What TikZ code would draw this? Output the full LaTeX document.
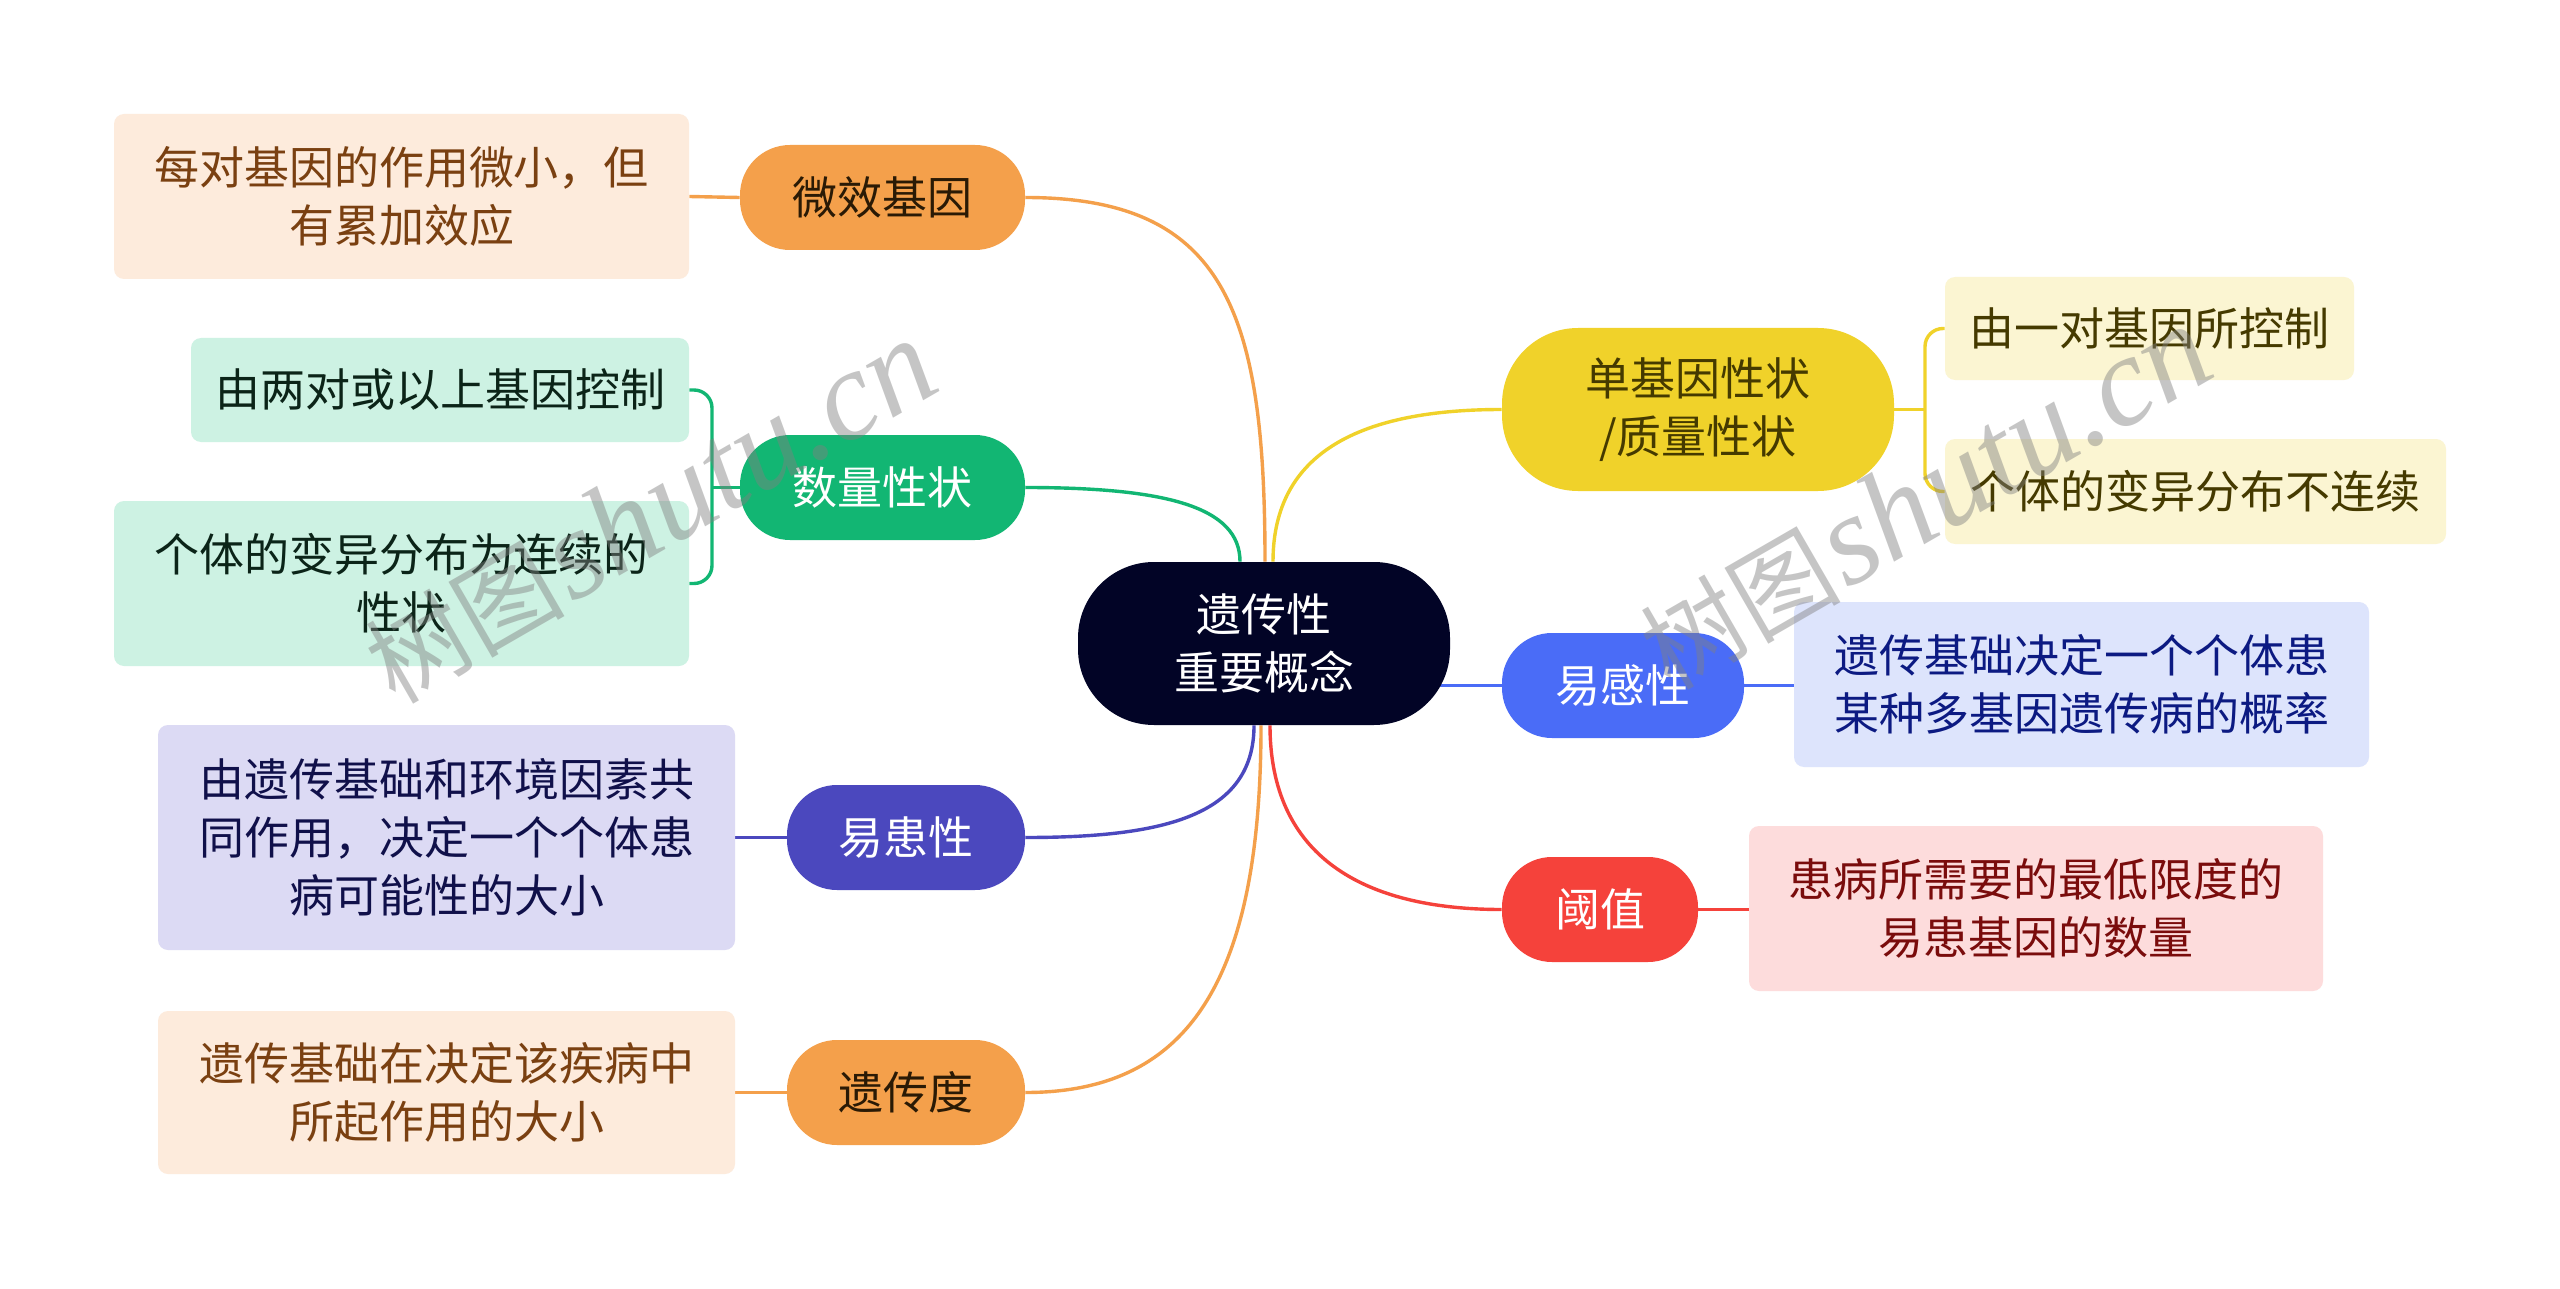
\documentclass[tikz,border=0pt]{standalone}
\usepackage{fontspec}
\setmainfont{Noto Sans CJK SC}
\newfontfamily\wmcjk{Noto Sans CJK SC}
\newfontfamily\wmlat{Liberation Serif}
\usetikzlibrary{backgrounds}
\definecolor{cnavy}{HTML}{020426}
\definecolor{corange}{HTML}{F4A04B}
\definecolor{corangeL}{HTML}{FDEBDC}
\definecolor{corangeT}{HTML}{7A4011}
\definecolor{cdark}{HTML}{2A1A05}
\definecolor{cgreen}{HTML}{12B673}
\definecolor{cgreenL}{HTML}{CDF2E3}
\definecolor{cgreenT}{HTML}{0B2418}
\definecolor{cindigo}{HTML}{4B48BE}
\definecolor{cindigoL}{HTML}{DCDAF4}
\definecolor{cindigoT}{HTML}{10104A}
\definecolor{cyellow}{HTML}{F0D22A}
\definecolor{cyellowL}{HTML}{FBF5D2}
\definecolor{cyellowT}{HTML}{453A00}
\definecolor{cblue}{HTML}{4A6CF7}
\definecolor{cblueL}{HTML}{DDE4FC}
\definecolor{cblueT}{HTML}{0C1A82}
\definecolor{cred}{HTML}{F5423B}
\definecolor{credL}{HTML}{FDDCDC}
\definecolor{credT}{HTML}{7A0C0C}
\begin{document}
\begin{tikzpicture}[x=0.5pt,y=-0.5pt,
  base/.style={inner sep=0pt, align=center, font=\fontsize{22.5}{29}\selectfont},
  topic/.style={base, rounded corners=25pt, minimum height=52.5pt},
  leaf/.style={base, rounded corners=5pt},
  link/.style={line width=1.7pt},
  wm/.style={rotate=30, text=gray, text opacity=0.45}]

% ---------- nodes ----------
\node[base, fill=cnavy, text=white, rounded corners=38pt, minimum width=186pt, minimum height=81.5pt] (c) at (1264,643.5) {遗传性\\重要概念};

\node[topic, fill=corange, text=cdark, minimum width=142.5pt] (b1) at (882.5,197.5) {微效基因};
\node[topic, fill=cgreen, text=white, minimum width=142.5pt] (b2) at (882.5,487.5) {数量性状};
\node[topic, fill=cindigo, text=white, minimum width=119pt] (b3) at (906,837.5) {易患性};
\node[topic, fill=corange, text=cdark, minimum width=119pt] (b4) at (906,1092.5) {遗传度};
\node[base, fill=cyellow, text=cyellowT, rounded corners=38pt, minimum width=196pt, minimum height=81.5pt] (b5) at (1698,409.5) {单基因性状\\/质量性状};
\node[topic, fill=cblue, text=white, minimum width=121pt] (b6) at (1623,685.5) {易感性};
\node[topic, fill=cred, text=white, minimum width=98pt] (b7) at (1600,909.5) {阈值};

\node[leaf, fill=corangeL, text=corangeT, minimum width=287.5pt, minimum height=82.5pt] (L1) at (401.5,196.5) {每对基因的作用微小，但\\有累加效应};
\node[leaf, fill=cgreenL, text=cgreenT, minimum width=249pt, minimum height=52pt] (L2a) at (440,390) {由两对或以上基因控制};
\node[leaf, fill=cgreenL, text=cgreenT, minimum width=287.5pt, minimum height=82.5pt] (L2b) at (401.5,583.5) {个体的变异分布为连续的\\性状};
\node[leaf, fill=cindigoL, text=cindigoT, minimum width=288.5pt, minimum height=112.5pt] (L3) at (446.5,837.5) {由遗传基础和环境因素共\\同作用，决定一个个体患\\病可能性的大小};
\node[leaf, fill=corangeL, text=corangeT, minimum width=288.5pt, minimum height=81.5pt] (L4) at (446.5,1092.5) {遗传基础在决定该疾病中\\所起作用的大小};

\node[leaf, fill=cyellowL, text=cyellowT, minimum width=204.5pt, minimum height=51.5pt] (R1a) at (2149.5,328.5) {由一对基因所控制};
\node[leaf, fill=cyellowL, text=cyellowT, minimum width=250.5pt, minimum height=52.5pt] (R1b) at (2195.5,491.5) {个体的变异分布不连续};
\node[leaf, fill=cblueL, text=cblueT, minimum width=287.5pt, minimum height=82.5pt] (R2) at (2081.5,684.5) {遗传基础决定一个个体患\\某种多基因遗传病的概率};
\node[leaf, fill=credL, text=credT, minimum width=287pt, minimum height=82.5pt] (R3) at (2036,908.5) {患病所需要的最低限度的\\易患基因的数量};

% ---------- connectors ----------
\begin{pgfonlayer}{background}
\fill[white] (0,0) rectangle (2560,1289);
% center to topics
\draw[link, corange] (b1.east) .. controls +(200,0) and +(0,-250) .. ([xshift=0.5pt]c.north);
\draw[link, cgreen] (b2.east) .. controls +(140,0) and +(0,-55) .. ([xshift=-12pt]c.north);
\draw[link, cyellow] ([xshift=4.5pt]c.north) .. controls +(0,-110) and +(-140,0) .. (b5.west);
\draw[link, cblue] (b6.west) -- (c.center |- b6.west);
\draw[link, cindigo] ([xshift=-5pt]c.south) .. controls +(0,90) and +(140,0) .. (b3.east);
\draw[link, corange] ([xshift=-1.5pt]c.south) .. controls +(0,260) and +(160,0) .. (b4.east);
\draw[link, cred] ([xshift=3pt]c.south) .. controls +(0,130) and +(-140,0) .. (b7.west);
% topics to leaves
\draw[link, corange] (L1.east) -- (b1.west);
\draw[link, cindigo] (L3.east) -- (b3.west);
\draw[link, corange] (L4.east) -- (b4.west);
\draw[link, cblue] (b6.east) -- (R2.west |- b6.east);
\draw[link, cred] (b7.east) -- (R3.west |- b7.east);
% brackets
\coordinate (gk) at (712,487.5);
\draw[link, cgreen] (b2.west) -- (gk);
\draw[link, cgreen, rounded corners=9pt] (L2a.east) -| (gk) |- (L2b.east);
\coordinate (yk) at (1925,409.5);
\draw[link, cyellow] (b5.east) -- (yk);
\draw[link, cyellow, rounded corners=9pt] (R1a.west) -| (yk) |- (R1b.west);
\end{pgfonlayer}

% ---------- watermarks ----------
\node[wm] (wm1) at (650,512) {{\wmcjk\fontsize{50}{50}\selectfont 树图} {\wmlat\itshape\fontsize{64}{64}\selectfont shutu.cn}};
\node[wm] (wm2) at (1925,498) {{\wmcjk\fontsize{50}{50}\selectfont 树图} {\wmlat\itshape\fontsize{64}{64}\selectfont shutu.cn}};
\end{tikzpicture}
\end{document}
